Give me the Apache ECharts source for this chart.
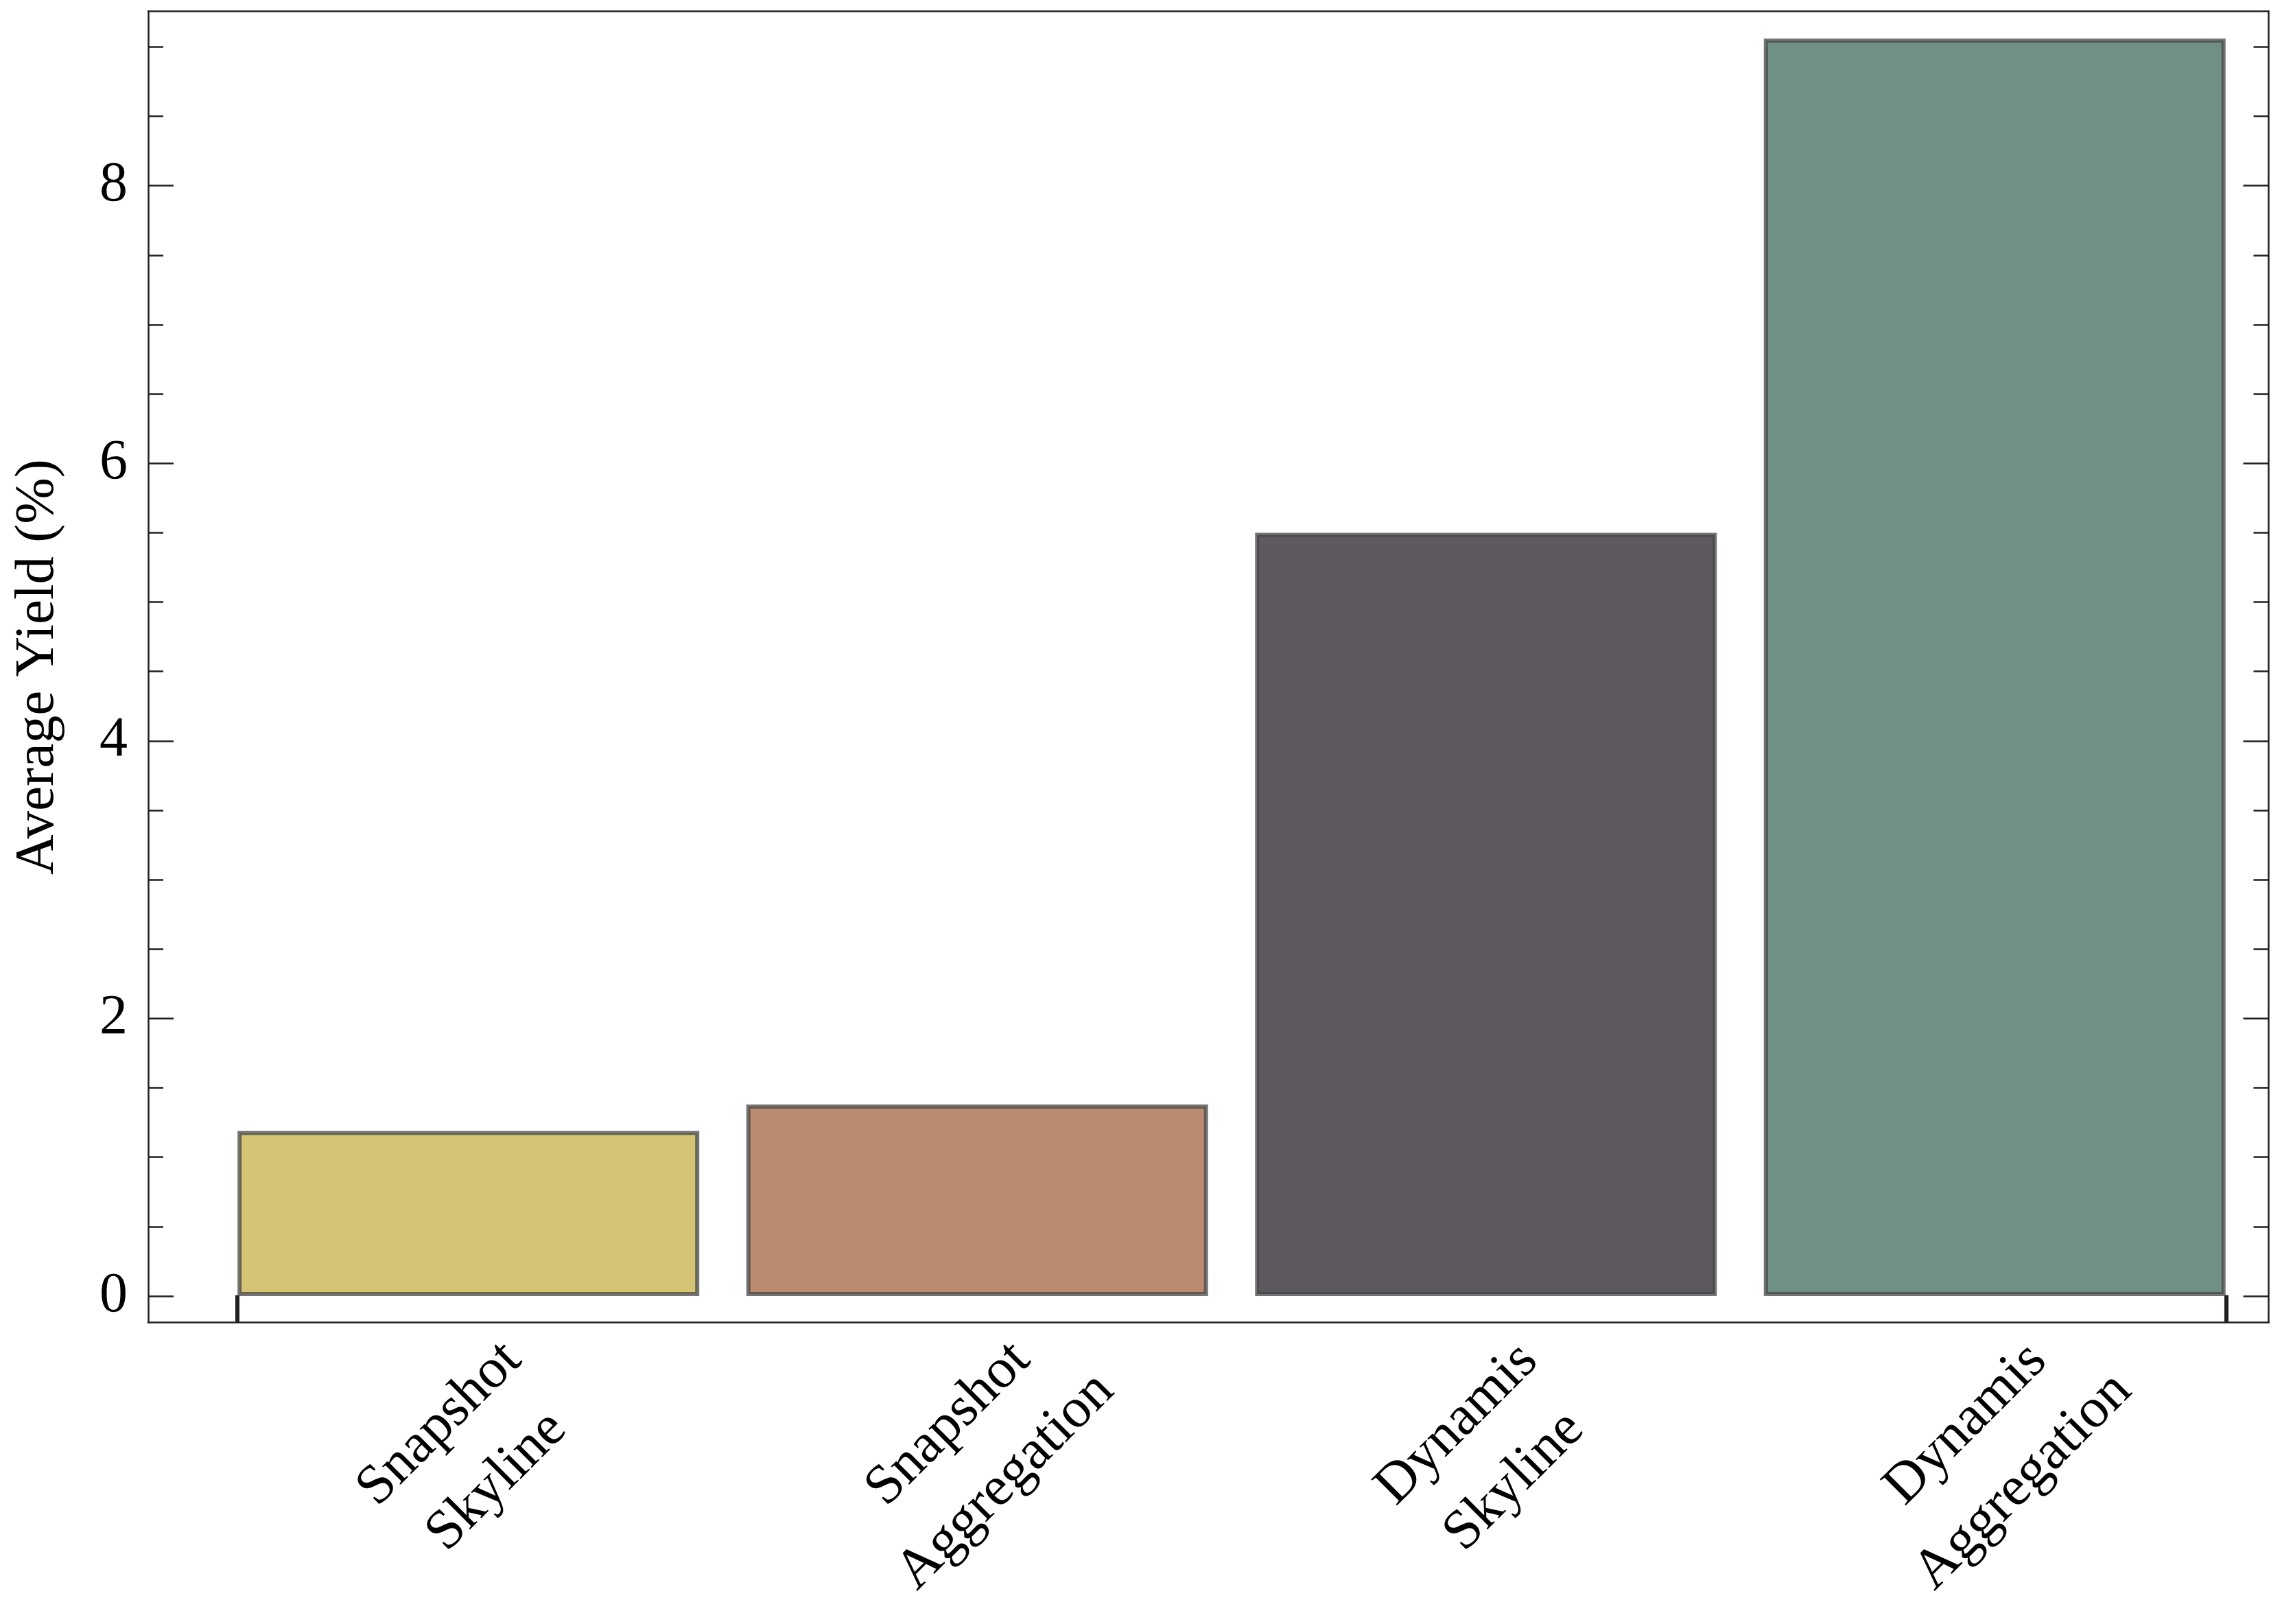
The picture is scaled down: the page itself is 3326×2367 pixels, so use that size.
<!DOCTYPE html>
<html>
<head>
<meta charset="utf-8">
<style>
  html, body { margin: 0; padding: 0; background: #ffffff; }
  #chart { width: 3326px; height: 2367px; }
</style>
<script src="https://cdn.jsdelivr.net/npm/echarts@6/dist/echarts.min.js"></script>
</head>
<body>
<div id="chart"></div>
<script>
const categories = ['Snapshot\nSkyline', 'Snapshot\nAggregation', 'Dynamis\nSkyline', 'Dynamis\nAggregation'];
const values = [1.19, 1.38, 5.50, 9.06];
const barColors = ['#D4C474', '#BA8A71', '#5E5960', '#709084'];
const yMajorTicks = [0, 2, 4, 6, 8];
const yMinorTicks = [0.5, 1, 1.5, 2.5, 3, 3.5, 4.5, 5, 5.5, 6.5, 7, 7.5, 8.5, 9];
const categoryPositions = [0, 1, 2, 3];
const barEdgeTicks = [-0.455, 3.455];
const yTitle = 'Average Yield (%)';

const FONT = '"Liberation Serif", "Times New Roman", "DejaVu Serif", serif';
const FRAME = '#231f20';
const X_MIN = -0.6294, X_MAX = 3.5384;
const Y_MIN = -0.1913, Y_MAX = 9.2556;

const chart = echarts.init(document.getElementById('chart'), null, { renderer: 'canvas' });

function yAx(position, tickVals, tickLen, showLine, showLabels, extra) {
  return Object.assign({
    type: 'value', position: position, min: Y_MIN, max: Y_MAX,
    axisLine: { show: showLine, onZero: false, lineStyle: { color: FRAME, width: 2.5 } },
    axisTick: { show: true, inside: true, length: tickLen, customValues: tickVals,
      lineStyle: { color: FRAME, width: 2.5 } },
    axisLabel: showLabels ? { show: true, customValues: yMajorTicks, margin: 30,
      fontFamily: FONT, fontSize: 82, color: '#000' } : { show: false },
    splitLine: { show: false }
  }, extra || {});
}

const option = {
  backgroundColor: '#ffffff',
  animation: false,
  grid: { left: 216, right: 19.5, top: 16.7, bottom: 439.3, containLabel: false },
  xAxis: [
    {
      type: 'value', position: 'bottom', min: X_MIN, max: X_MAX,
      axisLine: { show: true, onZero: false, lineStyle: { color: FRAME, width: 2.5 } },
      axisTick: { show: true, inside: true, length: 40, customValues: barEdgeTicks,
        lineStyle: { color: FRAME, width: 6 } },
      axisLabel: {
        show: true, customValues: categoryPositions,
        formatter: function (v) { return categories[Math.round(v)]; },
        rotate: 45, align: 'center', verticalAlign: 'middle',
        margin: 190, lineHeight: 118,
        fontFamily: FONT, fontSize: 82, color: '#000'
      },
      splitLine: { show: false }
    },
    {
      type: 'value', position: 'top', min: X_MIN, max: X_MAX,
      axisLine: { show: true, onZero: false, lineStyle: { color: FRAME, width: 2.5 } },
      axisTick: { show: false }, axisLabel: { show: false }, splitLine: { show: false }
    }
  ],
  yAxis: [
    yAx('left', yMajorTicks, 37, true, true, {
      name: yTitle, nameLocation: 'middle', nameGap: 120, nameRotate: 90,
      nameTextStyle: { fontFamily: FONT, fontSize: 81, color: '#000' }
    }),
    yAx('left', yMinorTicks, 22, false, false),
    yAx('right', yMajorTicks, 37, true, false),
    yAx('right', yMinorTicks, 22, false, false)
  ],
  series: [{
    type: 'bar',
    xAxisIndex: 0, yAxisIndex: 0,
    barWidth: 673,
    data: values.map(function (v, i) {
      return { value: [categoryPositions[i], v], itemStyle: { color: barColors[i] } };
    }),
    itemStyle: { borderColor: 'rgba(70,70,70,0.75)', borderWidth: 6 },
    emphasis: { disabled: true }
  }]
};
chart.setOption(option);
</script>
</body>
</html>
